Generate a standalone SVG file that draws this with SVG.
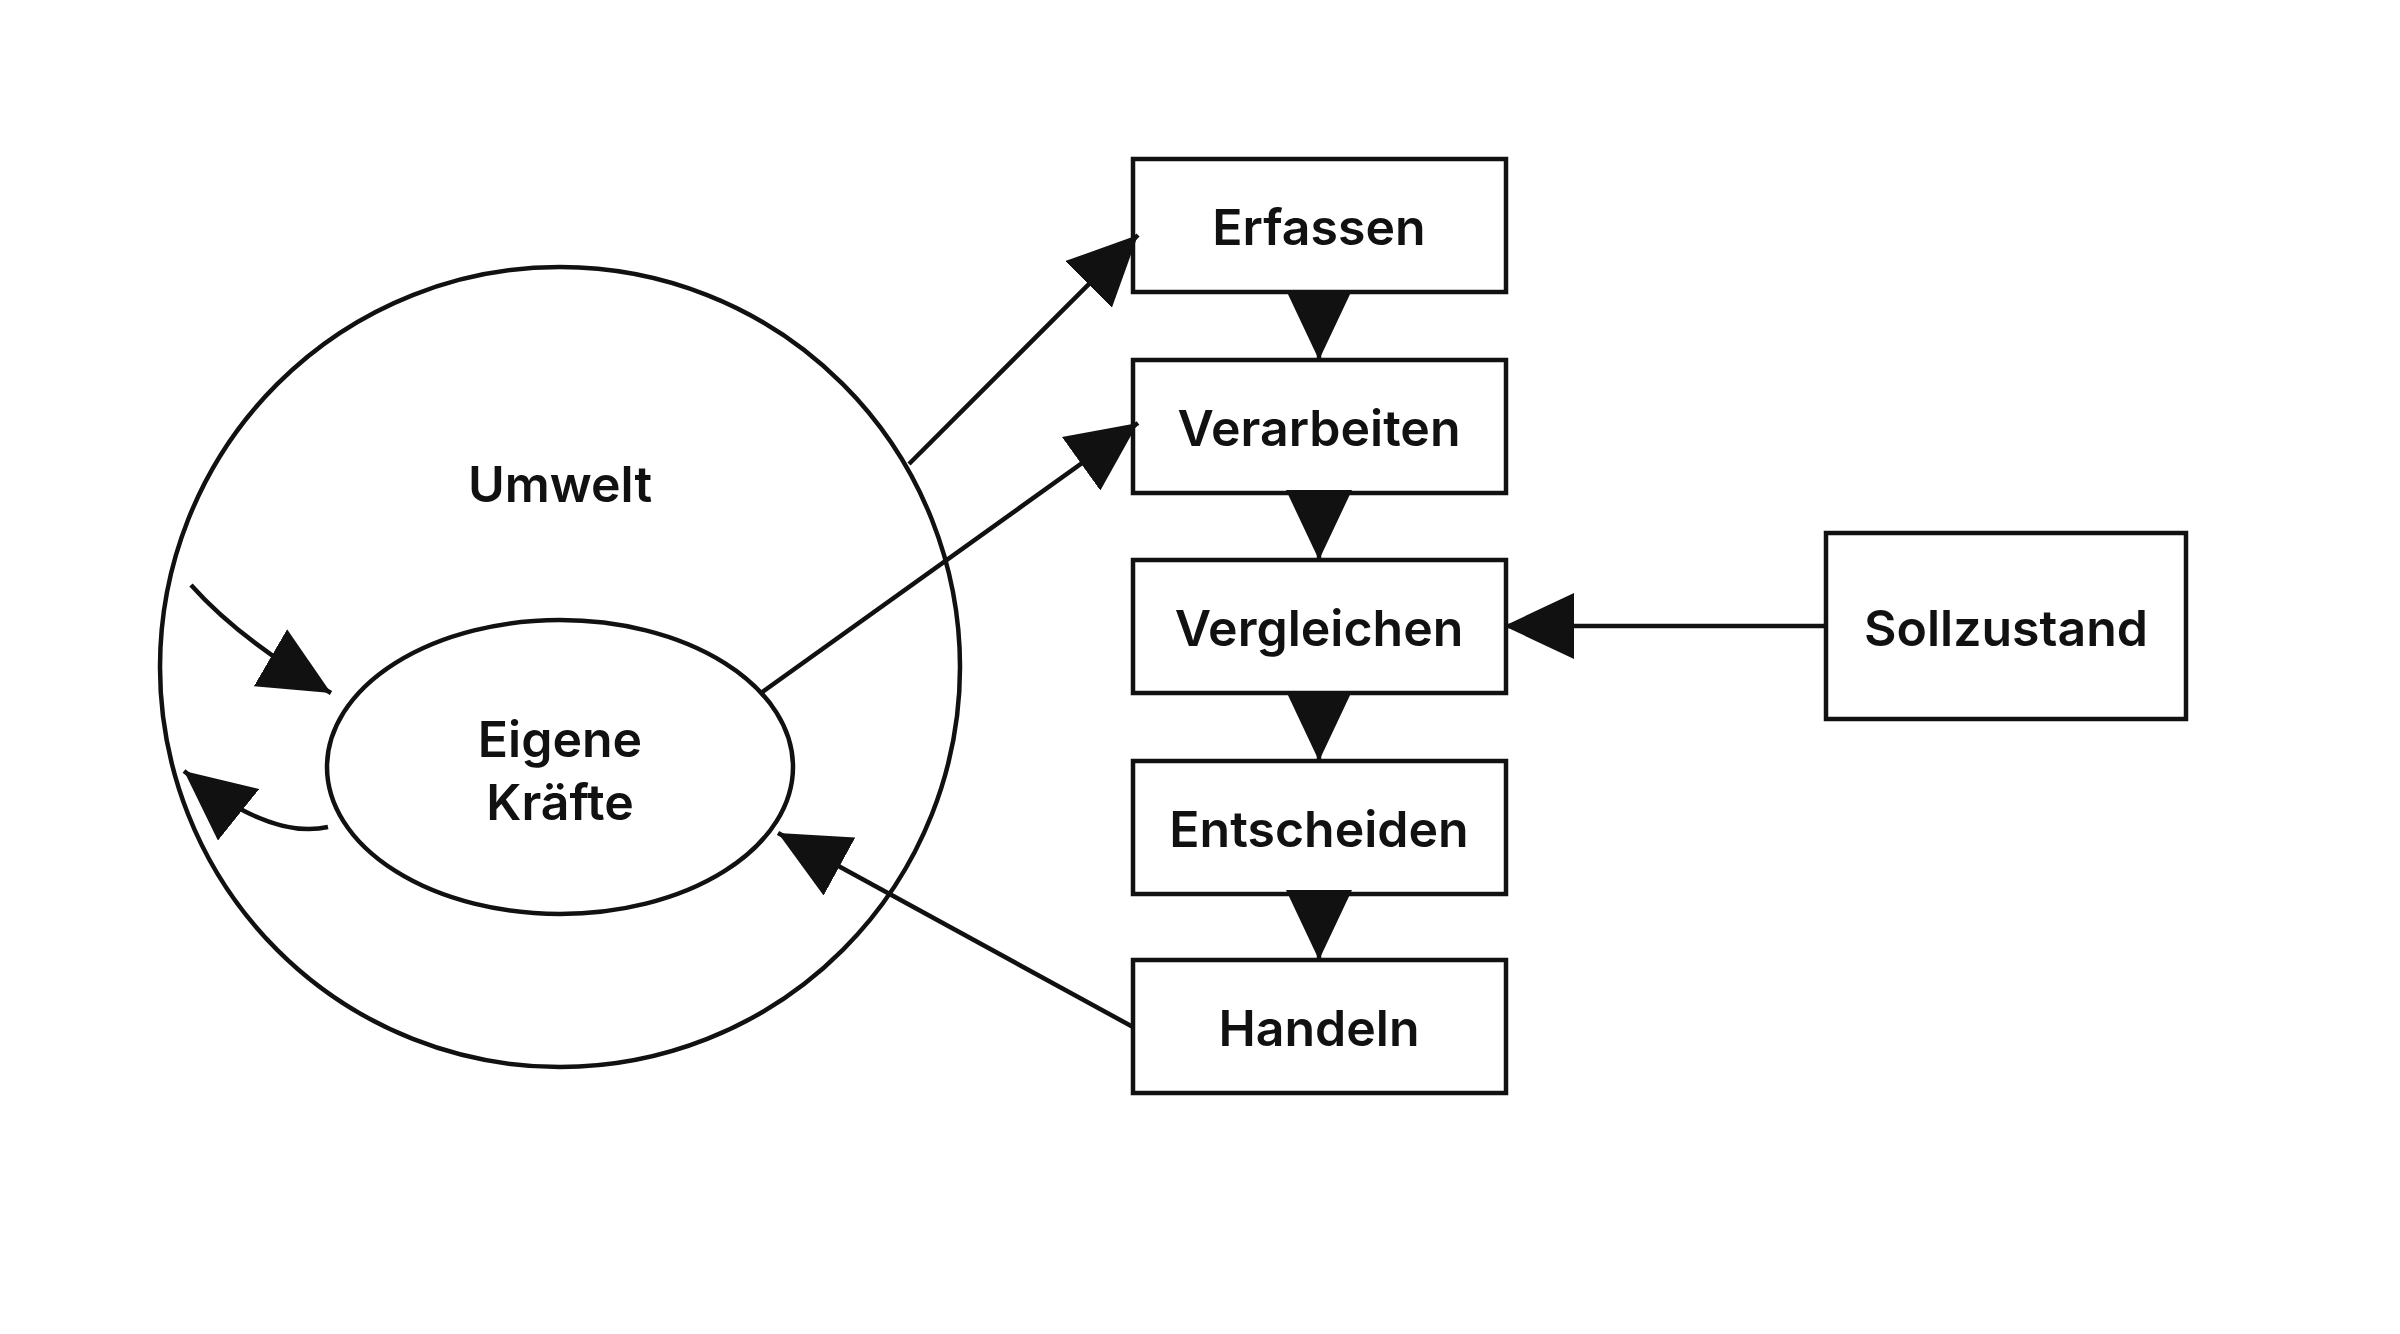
<svg xmlns="http://www.w3.org/2000/svg" width="2400" height="1334" viewBox="0 0 2400 1334">
<style>
.s{fill:none;stroke:#111;stroke-width:4.5}
.b{fill:#fff;stroke:#111;stroke-width:4.5}
text{font-family:Inter,"Liberation Sans",sans-serif;font-weight:600;font-size:50px;fill:#111;text-anchor:middle;dominant-baseline:central}
</style>
<defs>
<marker id="a" markerUnits="userSpaceOnUse" markerWidth="72" markerHeight="66" refX="70" refY="33" orient="auto"><path d="M0,0L70,33L0,66Z" fill="#111"/></marker>
</defs>
<rect width="2400" height="1334" fill="#fff"/>
<g id="umwelt"><circle class="s" cx="560" cy="667" r="400"/><text x="560" y="484">Umwelt</text></g>
<g id="kraefte"><ellipse class="s" cx="560" cy="767" rx="233" ry="147"/><text x="560" y="739">Eigene</text><text x="560" y="802">Kräfte</text></g>
<g id="erfassen"><rect class="b" x="1133" y="159" width="373" height="133"/><text x="1319" y="227">Erfassen</text></g>
<g id="verarbeiten"><rect class="b" x="1133" y="360" width="373" height="133"/><text x="1319" y="428">Verarbeiten</text></g>
<g id="vergleichen"><rect class="b" x="1133" y="560" width="373" height="133"/><text x="1319" y="628">Vergleichen</text></g>
<g id="entscheiden"><rect class="b" x="1133" y="761" width="373" height="133"/><text x="1319" y="829">Entscheiden</text></g>
<g id="handeln"><rect class="b" x="1133" y="960" width="373" height="133"/><text x="1319" y="1028">Handeln</text></g>
<g id="sollzustand"><rect class="b" x="1826" y="533" width="360" height="186"/><text x="2006" y="628">Sollzustand</text></g>
<g id="connectors">
<path class="s" d="M1319,292V360" marker-end="url(#a)"/>
<path class="s" d="M1319,493V560" marker-end="url(#a)"/>
<path class="s" d="M1319,693V761" marker-end="url(#a)"/>
<path class="s" d="M1319,894V960" marker-end="url(#a)"/>
<path class="s" d="M909,464L1138,235" marker-end="url(#a)"/>
<path class="s" d="M761,693L1138,423" marker-end="url(#a)"/>
<path class="s" d="M1826,626H1504" marker-end="url(#a)"/>
<path class="s" d="M1133,1027L778,833" marker-end="url(#a)"/>
<path class="s" d="M191,585Q240,640 331,693" marker-end="url(#a)"/>
<path class="s" d="M328,827Q270,840 184,771" marker-end="url(#a)"/>
</g>
</svg>
